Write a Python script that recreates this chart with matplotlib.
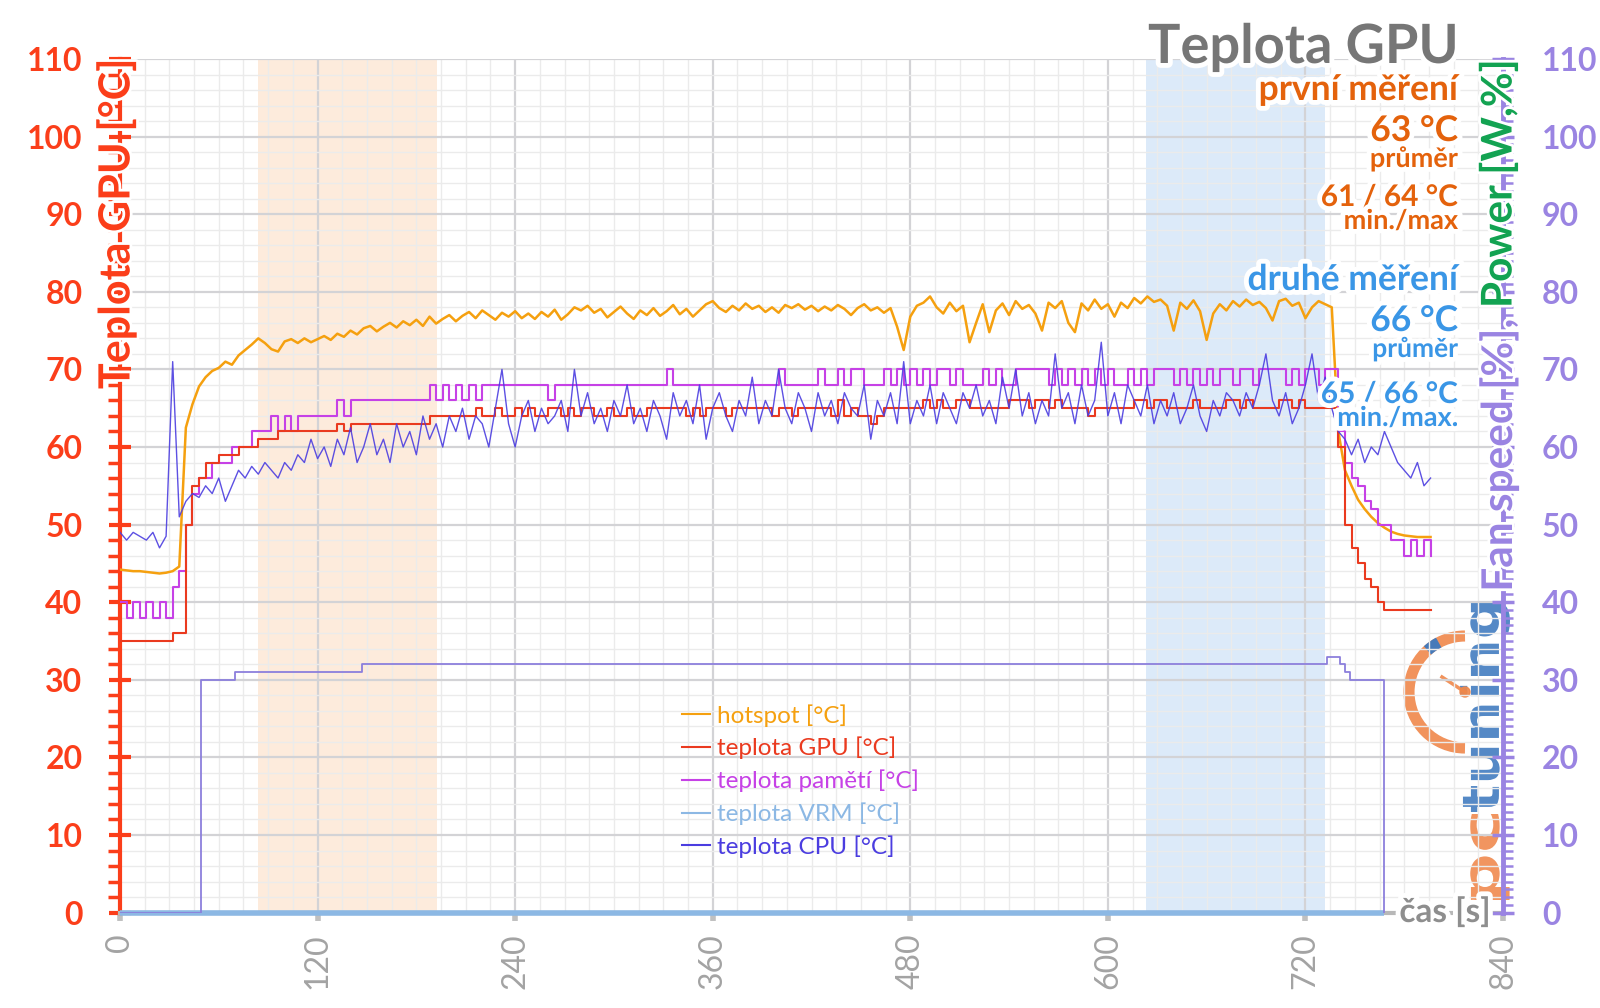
import matplotlib
matplotlib.use("Agg")
import matplotlib.pyplot as plt
import matplotlib.patheffects as pe
from matplotlib.patches import Arc, Circle, PathPatch
from matplotlib.lines import Line2D
from matplotlib.ticker import MultipleLocator
from matplotlib.textpath import TextPath
from matplotlib.font_manager import FontProperties
from matplotlib.transforms import Affine2D
import numpy as np

plt.rcParams['font.family'] = ['Lato', 'DejaVu Sans']

# ---------------- data ----------------
time_s = np.arange(0, 800, 4)

hotspot = [
    44.2, 44.1, 44.0, 44.0, 43.9, 43.8, 43.7, 43.8, 44.0, 44.6,
    62.5, 65.5, 67.8, 69.0, 69.8, 70.2, 71.0, 70.6, 71.8, 72.5,
    73.2, 74.0, 73.4, 72.6, 72.3, 73.6, 73.9, 73.4, 74.0, 73.5,
    73.9, 74.3, 73.8, 74.6, 74.2, 75.0, 74.5, 75.3, 75.6, 74.9,
    75.5, 76.0, 75.4, 76.2, 75.7, 76.4, 75.6, 76.8, 75.9, 76.5,
    77.0, 76.2, 76.9, 77.4, 76.6, 77.6, 77.0, 76.4, 77.3, 76.8,
    77.5, 76.6, 77.2, 76.5, 77.4, 76.8, 77.7, 76.4, 77.1, 78.0,
    77.6, 78.2, 77.3, 77.8, 76.7, 77.4, 78.1, 77.2, 76.5, 77.6,
    77.0, 77.9, 76.9, 77.5, 78.3, 77.1, 77.8, 76.8, 77.6, 78.4,
    78.8, 77.9, 77.4, 78.2, 77.6, 78.5, 77.8, 78.2, 77.4, 78.0,
    77.3, 78.3, 77.9, 78.4, 77.7, 78.2, 77.5, 78.1, 77.6, 78.3,
    77.8, 77.0, 77.9, 78.4, 77.6, 78.0, 77.3, 77.9, 75.5, 72.5,
    76.8, 78.2, 78.6, 79.4, 78.0, 77.2, 78.6, 77.5, 78.2, 73.5,
    76.0, 78.4, 74.8, 77.6, 78.5, 77.0, 78.8, 77.8, 78.3, 77.2,
    75.0, 78.6, 77.9, 78.8, 76.0, 74.8, 78.5, 77.6, 79.0, 77.8,
    78.4, 76.8, 78.6, 77.9, 79.2, 78.5, 79.4, 78.7, 79.0, 78.2,
    75.0, 78.6, 77.8, 78.9, 77.5, 73.8, 77.2, 78.4, 77.6, 78.8,
    78.1, 79.0, 78.3, 78.7, 77.9, 76.3, 78.8, 79.1, 78.2, 78.6,
    76.6, 78.0, 78.8, 78.4, 78.0, 62.0, 57.0, 55.0, 53.2, 52.0,
    51.0, 50.2, 49.6, 49.1, 48.8, 48.6, 48.5, 48.4, 48.4, 48.4,
]

gpu_temp = [
    35, 35, 35, 35, 35, 35, 35, 35, 36, 36,
    50, 55, 56, 58, 58, 59, 59, 59, 60, 60,
    60, 61, 61, 61, 62, 62, 62, 62, 62, 62,
    62, 62, 62, 63, 62, 63, 63, 63, 63, 63,
    63, 63, 63, 63, 63, 63, 63, 64, 64, 64,
    64, 64, 64, 64, 65, 64, 64, 65, 64, 64,
    65, 64, 65, 64, 64, 65, 65, 64, 65, 64,
    65, 65, 64, 64, 65, 64, 64, 65, 64, 64,
    65, 65, 65, 65, 65, 65, 64, 65, 64, 65,
    65, 65, 64, 65, 65, 65, 65, 65, 65, 64,
    65, 65, 64, 65, 65, 65, 65, 65, 64, 66,
    64, 65, 64, 64, 63, 64, 65, 65, 65, 65,
    65, 65, 66, 65, 66, 65, 65, 66, 66, 65,
    65, 65, 65, 65, 65, 66, 66, 66, 65, 66,
    66, 65, 66, 65, 65, 65, 65, 64, 65, 65,
    65, 65, 65, 65, 66, 66, 65, 66, 66, 65,
    65, 65, 65, 66, 65, 65, 65, 65, 66, 66,
    65, 66, 65, 65, 65, 65, 66, 66, 65, 66,
    65, 65, 65, 65, 65, 60, 50, 47, 45, 43,
    42, 40, 39, 39, 39, 39, 39, 39, 39, 39,
]

mem_temp = [
    40, 38, 40, 38, 40, 38, 40, 38, 42, 44,
    50, 54, 56, 56, 58, 58, 58, 60, 60, 60,
    62, 62, 62, 64, 62, 64, 62, 64, 64, 64,
    64, 64, 64, 66, 64, 66, 66, 66, 66, 66,
    66, 66, 66, 66, 66, 66, 66, 68, 66, 68,
    66, 68, 66, 68, 66, 68, 68, 68, 68, 68,
    68, 68, 68, 68, 68, 66, 68, 68, 68, 68,
    68, 68, 68, 68, 68, 68, 68, 68, 68, 68,
    68, 68, 68, 70, 68, 68, 68, 68, 68, 68,
    68, 68, 68, 68, 68, 68, 68, 68, 68, 68,
    70, 68, 68, 68, 68, 68, 70, 68, 68, 70,
    68, 70, 70, 68, 68, 68, 70, 68, 70, 68,
    70, 68, 70, 68, 70, 70, 68, 70, 68, 68,
    68, 70, 68, 70, 68, 68, 70, 70, 70, 70,
    70, 68, 70, 68, 70, 68, 70, 68, 70, 68,
    70, 68, 68, 70, 68, 70, 68, 70, 70, 70,
    68, 70, 68, 70, 68, 70, 68, 70, 70, 68,
    70, 70, 68, 70, 70, 70, 70, 68, 70, 68,
    70, 70, 68, 70, 70, 62, 58, 56, 55, 53,
    52, 50, 50, 48, 48, 46, 48, 46, 48, 46,
]

cpu_temp = [
    49, 48, 49, 48.5, 48, 49, 47, 48.5, 71, 51,
    53, 54, 53.5, 55, 54, 56, 53, 55, 57, 56,
    57.5, 56.5, 58, 57, 56, 58, 57, 59, 58, 61,
    58.5, 60, 57.5, 61, 59, 62.5, 58, 60, 63, 59,
    61, 58, 63, 60, 62, 59, 64, 61, 63, 60,
    64, 62, 65, 61, 64, 63, 60, 65, 70, 63,
    60, 64, 66, 62, 65, 63, 64, 66, 62, 70,
    64, 67, 63, 65, 62, 66, 64, 68, 63, 65,
    62, 66, 64, 61, 67, 64, 66, 63, 68, 61,
    65, 67, 64, 62, 66, 64, 69, 63, 66, 64,
    70, 65, 63, 67, 65, 62, 67, 64, 66, 63,
    67, 65, 64, 68, 61, 66, 64, 67, 63, 71,
    63, 66, 64, 68, 63, 67, 65, 63, 67, 65,
    68, 64, 66, 63, 69, 65, 70, 64, 67, 63,
    66, 64, 72, 65, 67, 63, 68, 64, 66, 73.5,
    64, 67, 63, 68, 66, 64, 68, 63, 66, 64,
    67, 63, 65, 68, 64, 62, 66, 64, 67, 66,
    64, 67, 65, 68, 72, 66, 64, 67, 63, 65,
    68, 72, 66, 69, 65, 62, 61, 59, 61, 58,
    60, 59, 62, 60, 58, 57, 56, 58, 55, 56,
]

vrm_t = [0, 768]
vrm_temp = [0, 0]

fan_t = [0, 49, 70, 147, 733, 741, 744, 747, 768]
fan_speed = [0, 30, 31, 32, 33, 32, 31, 30, 0]

first_run = (84, 192.5)
second_run = (623, 732)

x_ticks = [0, 120, 240, 360, 480, 600, 720, 840]
y_ticks = [0, 10, 20, 30, 40, 50, 60, 70, 80, 90, 100, 110]

legend_labels = ['hotspot [°C]', 'teplota GPU [°C]', 'teplota pamětí [°C]',
                 'teplota VRM [°C]', 'teplota CPU [°C]']

# ---------------- style ----------------
W, H = 1600, 1008
RED = '#fb3e1a'
PURPLE = '#9a84e2'
GREEN = '#13a352'
C_HOT = '#f5a00f'
C_GPU = '#ea3a1f'
C_MEM = '#c641e6'
C_VRM = '#8cb8e4'
C_CPU = '#4b3de0'
C_FAN = '#8c7fdc'
C_FIRST = '#e4620c'
C_SECOND = '#3a96e6'
LOGO_OR = '#f0874a'
LOGO_BL = '#3d79bf'

fig = plt.figure(figsize=(W / 100, H / 100), dpi=100)
fig.patch.set_facecolor('white')

# logo layer (behind the chart), pixel coords with y up
logo_ax = fig.add_axes([0, 0, 1, 1], zorder=-1)
logo_ax.set_xlim(0, W)
logo_ax.set_ylim(0, H)
logo_ax.axis('off')

y0_px, y110_px = 912.6, 59.0
x0_px, x840_px = 120.0, 1503.0
ax = fig.add_axes([x0_px / W, (H - y0_px) / H, (x840_px - x0_px) / W, (y0_px - y110_px) / H])
ax.patch.set_visible(False)
ax.set_xlim(0, 840)
ax.set_ylim(0, 110)

ax.axvspan(*first_run, color='#fdebdc', lw=0, zorder=0.1)
ax.axvspan(*second_run, color='#dceaf9', lw=0, zorder=0.1)

ax.set_axisbelow(True)
ax.xaxis.set_major_locator(MultipleLocator(120))
ax.xaxis.set_minor_locator(MultipleLocator(15))
ax.yaxis.set_minor_locator(MultipleLocator(2))
ax.grid(which='major', color='#d3d3d6', lw=1.6)
ax.grid(which='minor', color='#ebebeb', lw=1.0)

ax.plot(time_s, hotspot, color=C_HOT, lw=1.8, zorder=3)
ax.plot(time_s, mem_temp, color=C_MEM, lw=1.5, drawstyle='steps-post', zorder=3.5)
ax.plot(time_s, gpu_temp, color=C_GPU, lw=1.5, drawstyle='steps-post', zorder=4)
ax.plot(time_s, cpu_temp, color=C_CPU, lw=1.0, alpha=0.9, zorder=4.5)
ax.plot(vrm_t, vrm_temp, color=C_VRM, lw=4, zorder=5, clip_on=False, solid_capstyle='butt')

for s in ['top', 'right']:
    ax.spines[s].set_visible(False)
ax.spines['left'].set_color(RED)
ax.spines['left'].set_linewidth(3)
ax.spines['bottom'].set_color('#b8b8b8')
ax.spines['bottom'].set_linewidth(3)

ax.set_yticks(y_ticks)
ax.set_yticklabels([str(v) for v in y_ticks], fontsize=23, fontweight='bold', color=RED)
ax.tick_params(axis='y', which='major', direction='inout', length=16, width=3, color=RED, pad=19)
ax.tick_params(axis='y', which='minor', direction='out', length=9, width=2.5, color=RED)

ax.set_xticks(x_ticks)
ax.set_xticklabels([str(v) for v in x_ticks], fontsize=23, color='#a3a3a3', rotation=90)
ax.tick_params(axis='x', which='major', direction='out', length=6, width=4, color='#c0c0c0', pad=9)
ax.tick_params(axis='x', which='minor', length=0)

# right axis
ax2 = ax.twinx()
ax2.set_ylim(0, 110)
ax2.plot(fan_t, fan_speed, color=C_FAN, lw=1.3, drawstyle='steps-post', zorder=3)
for s in ['top', 'left', 'bottom']:
    ax2.spines[s].set_visible(False)
ax2.spines['right'].set_color(PURPLE)
ax2.spines['right'].set_linewidth(3.5)
ax2.set_yticks(y_ticks)
ax2.set_yticklabels([str(v) for v in y_ticks], fontsize=23, fontweight='bold', color=PURPLE)
ax2.yaxis.set_minor_locator(MultipleLocator(1))
ax2.tick_params(axis='y', which='major', direction='inout', length=16, width=2.5, color=PURPLE, pad=20)
ax2.tick_params(axis='y', which='minor', direction='out', length=7, width=1.8, color=PURPLE)

# legend
handles = [Line2D([], [], color=c, lw=1.5) for c in [C_HOT, C_GPU, C_MEM, C_VRM, C_CPU]]
leg = ax2.legend(handles, legend_labels, loc='upper left',
                 bbox_to_anchor=(682 / W, 1 - 704 / H), bbox_transform=fig.transFigure,
                 frameon=False, fontsize=17.5, handlelength=1.15, handletextpad=0.3,
                 labelspacing=0.42, borderpad=0, borderaxespad=0, labelcolor='linecolor')

# ---------------- overlay texts (pixel coords, y down) ----------------
ov = fig.add_axes([0, 0, 1, 1], zorder=10)
ov.set_xlim(0, W)
ov.set_ylim(H, 0)
ov.axis('off')
ov.patch.set_alpha(0)

glow = [pe.withStroke(linewidth=7, foreground='white')]
glow_s = [pe.withStroke(linewidth=4, foreground='white')]

XR = 1458
ov.text(XR, 63, 'Teplota GPU', ha='right', va='baseline', fontsize=39, fontweight='bold',
        color='#767676', path_effects=glow)
block = [
    ('první měření', 100, 25.5, C_FIRST),
    ('63 °C', 141, 25.5, C_FIRST),
    ('průměr', 167, 19.5, C_FIRST),
    ('61 / 64 °C', 206, 21.5, C_FIRST),
    ('min./max', 229, 19.5, C_FIRST),
    ('druhé měření', 290, 25.5, C_SECOND),
    ('66 °C', 331, 25.5, C_SECOND),
    ('průměr', 357, 19, C_SECOND),
    ('65 / 66 °C', 403, 21.5, C_SECOND),
    ('min./max.', 426, 19.5, C_SECOND),
]
for txt, yb, fs, col in block:
    ov.text(XR, yb, txt, ha='right', va='baseline', fontsize=fs, fontweight='bold',
            color=col, path_effects=glow)

ov.text(116, 59, 'Teplota GPU [°C]', rotation=90, ha='center', va='top', fontsize=31,
        fontweight='bold', color=RED, path_effects=glow_s)

ov.text(1491, 912, 'čas [s]', ha='right', va='center', fontsize=24, fontweight='bold',
        color='#8e8e8e', path_effects=glow)

fig.canvas.draw()
r = fig.canvas.get_renderer()
t_pow = ov.text(1499, 59, 'Power [W,%]', rotation=90, ha='center', va='top', fontsize=30.5,
                fontweight='bold', color=GREEN, path_effects=glow_s)
bb = t_pow.get_window_extent(renderer=r)
ov.text(1499, H - bb.y0 + 10, 'Fan speed [%],', rotation=90, ha='center', va='top',
        fontsize=30.5, fontweight='bold', color=PURPLE, path_effects=glow_s)

# ---------------- logo (pctuning), drawn as scaled text paths ----------------
fp_logo = FontProperties(family='DejaVu Sans', weight='bold')
ref_ext = TextPath((0, 0), 'tuning', size=1, prop=fp_logo).get_extents()
SY = 50.0 / ref_ext.height            # across-text scale (full glyph band 50 px)
X_BASE = 1510 + ref_ext.y0 * SY        # baseline position so descenders end at x=1510


def logo_word(word, y_start_down, length, color):
    tp = TextPath((0, 0), word, size=1, prop=fp_logo)
    ext = tp.get_extents()
    sx = length / ext.width
    tr = (Affine2D().translate(-ext.x0, 0).scale(sx, SY).rotate_deg(90)
          .translate(X_BASE, H - y_start_down))
    logo_ax.add_patch(PathPatch(tr.transform_path(tp), facecolor=color, edgecolor='none',
                                alpha=0.88))


logo_word('pc', 900, 86, LOGO_OR)
logo_word('tuning', 812, 210, LOGO_BL)

cx, cy = 1465, H - 692
logo_ax.add_patch(Arc((cx, cy), 112, 112, theta1=90, theta2=270, color=LOGO_OR, lw=8, alpha=0.9))
logo_ax.add_patch(Arc((cx, cy), 112, 112, theta1=118, theta2=132, color=LOGO_BL, lw=8, alpha=0.95))
logo_ax.plot([cx, 1442], [cy, H - 677], color=LOGO_OR, lw=2.5, alpha=0.9)
logo_ax.add_patch(Circle((cx, cy), 5, color=LOGO_OR, alpha=0.9))

fig.savefig('out.png', dpi=100, facecolor='white')
